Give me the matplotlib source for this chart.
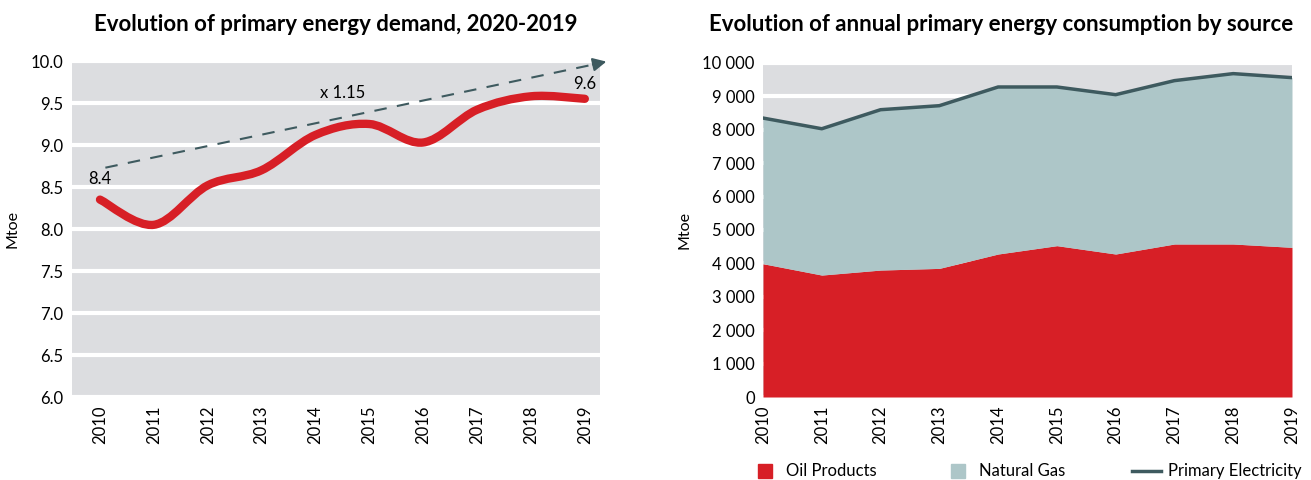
import numpy as np
import matplotlib.pyplot as plt
from matplotlib.path import Path
from matplotlib.patches import PathPatch
from matplotlib.lines import Line2D
from matplotlib.ticker import FuncFormatter

plt.rcParams['font.family'] = ['Lato', 'DejaVu Sans']

years = [2010, 2011, 2012, 2013, 2014, 2015, 2016, 2017, 2018, 2019]
demand = [8.35, 8.05, 8.52, 8.70, 9.12, 9.25, 9.03, 9.42, 9.58, 9.55]
oil = [3990, 3650, 3800, 3850, 4280, 4530, 4280, 4580, 4580, 4480]
gas = [4360, 4380, 4800, 4870, 5000, 4750, 4770, 4890, 5100, 5080]

red = '#d71f26'
gas_col = '#adc6c8'
elec_col = '#3e5a5f'
bg = '#dcdde0'

fig = plt.figure(figsize=(13.11, 4.8), dpi=100)

# ---------- left chart ----------
ax1 = fig.add_axes([0.0549, 0.1729, 0.4027, 0.70])
ax1.set_facecolor(bg)
for s in ax1.spines.values():
    s.set_visible(False)
ax1.set_xlim(2009.48, 2019.28)
ax1.set_ylim(6.0, 10.0)
ax1.set_yticks(np.arange(6.0, 10.01, 0.5))
ax1.yaxis.set_major_formatter(FuncFormatter(lambda v, p: '%.1f' % v))
ax1.set_xticks(years)
ax1.set_xticklabels([str(y) for y in years], rotation=90)
ax1.tick_params(length=0, labelsize=12, pad=6)
ax1.grid(axis='y', color='white', lw=3)
ax1.set_axisbelow(True)
ax1.set_ylabel('Mtoe', fontsize=11.5, labelpad=8)

# smooth curve through the points (Catmull-Rom as cubic bezier)
x = np.array(years, float)
y = np.array(demand)
verts = [(x[0], y[0])]
codes = [Path.MOVETO]
for i in range(len(x) - 1):
    x0, y0 = (x[i - 1], y[i - 1]) if i > 0 else (x[i], y[i])
    x3, y3 = (x[i + 2], y[i + 2]) if i + 2 < len(x) else (x[i + 1], y[i + 1])
    c1 = (x[i] + (x[i + 1] - x0) / 6, y[i] + (y[i + 1] - y0) / 6)
    c2 = (x[i + 1] - (x3 - x[i]) / 6, y[i + 1] - (y3 - y[i]) / 6)
    verts += [c1, c2, (x[i + 1], y[i + 1])]
    codes += [Path.CURVE4] * 3
ax1.add_patch(PathPatch(Path(verts, codes), fill=False, ec=red, lw=6,
                        capstyle='round', joinstyle='round', zorder=3))

# dashed growth arrow
ax1.plot([2010.1, 2019.1], [8.73, 9.95], ls=(0, (6, 5)), color=elec_col, lw=1.5, zorder=4)
ax1.annotate('', xy=(2019.45, 10.0), xytext=(2019.1, 9.95),
             arrowprops=dict(arrowstyle='-|>', color=elec_col, lw=1.5, mutation_scale=20),
             annotation_clip=False, zorder=4)
ax1.text(2014.5, 9.62, 'x 1.15', fontsize=12, ha='center', va='center')
ax1.text(2010.0, 8.60, '8.4', fontsize=12, ha='center', va='center')
ax1.text(2019.0, 9.73, '9.6', fontsize=12, ha='center', va='center')

fig.text(0.256, 0.948, 'Evolution of primary energy demand, 2020-2019',
         fontsize=16, fontweight='bold', ha='center', va='center')

# ---------- right chart ----------
ax2 = fig.add_axes([0.582, 0.1729, 0.4035, 0.696])
ax2.set_facecolor(bg)
for s in ax2.spines.values():
    s.set_visible(False)
ax2.set_xlim(2010, 2019)
ax2.set_ylim(0, 10000)
ax2.set_yticks(np.arange(0, 10001, 1000))
ax2.yaxis.set_major_formatter(FuncFormatter(lambda v, p: '{:,.0f}'.format(v).replace(',', ' ')))
ax2.set_xticks(years)
ax2.set_xticklabels([str(y) for y in years], rotation=90)
ax2.tick_params(length=0, labelsize=12, pad=6)
ax2.grid(axis='y', color='white', lw=3)
ax2.set_axisbelow(True)
ax2.set_ylabel('Mtoe', fontsize=11.5, labelpad=8)

total = np.array(oil) + np.array(gas)
ax2.fill_between(years, 0, oil, color=red, lw=0, zorder=2)
ax2.fill_between(years, oil, total, color=gas_col, lw=0, zorder=2)
ax2.plot(years, total, color=elec_col, lw=2.5, zorder=3)

fig.text(0.7636, 0.948, 'Evolution of annual primary energy consumption by source',
         fontsize=16, fontweight='bold', ha='center', va='center')

handles = [Line2D([], [], marker='s', ls='', ms=10, color=red),
           Line2D([], [], marker='s', ls='', ms=10, color=gas_col),
           Line2D([], [], color=elec_col, lw=2.5)]
fig.legend(handles, ['Oil Products', 'Natural Gas', 'Primary Electricity'],
           loc='center', bbox_to_anchor=(0.7826, 0.018), ncol=3, frameon=False,
           fontsize=12, handlelength=1.75, columnspacing=4.0,
           handletextpad=0.4)

fig.savefig('out.png', dpi=100)
